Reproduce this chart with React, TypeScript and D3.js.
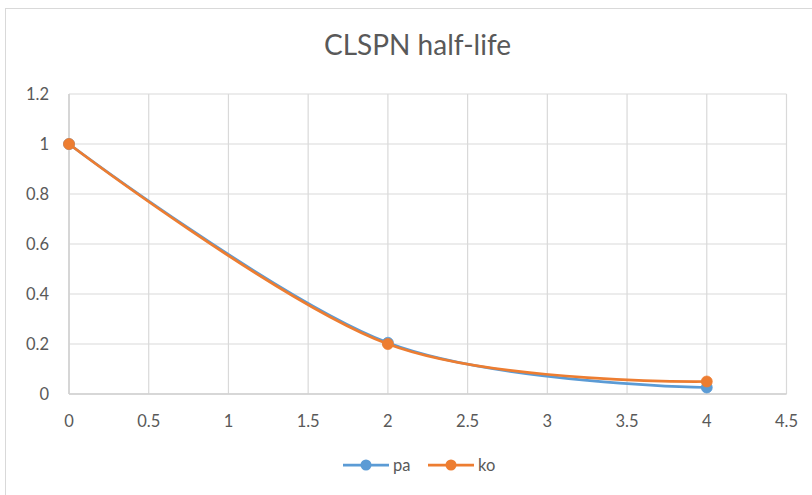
import React from "react";
import * as d3 from "d3";

const xValues = [0, 2, 4];
const paValues = [1, 0.205, 0.026];
const koValues = [1, 0.2, 0.05];
const xTicks = [0, 0.5, 1, 1.5, 2, 2.5, 3, 3.5, 4, 4.5];
const yTicks = [0, 0.2, 0.4, 0.6, 0.8, 1, 1.2];
const seriesNames = ["pa", "ko"];
const seriesColors = ["#5B9BD5", "#ED7D31"];

export default function App() {
  const W = 812, H = 495;
  const left = 69, right = 786.5, top = 94, bottom = 394;
  const x = d3.scaleLinear().domain([0, 4.5]).range([left, right]);
  const y = d3.scaleLinear().domain([0, 1.2]).range([bottom, top]);
  const line = d3
    .line<[number, number]>()
    .x((d) => x(d[0]))
    .y((d) => y(d[1]))
    .curve(d3.curveCardinal.tension(0));
  const series = [paValues, koValues];
  const font = "Lato, 'Open Sans', sans-serif";
  const textColor = "#595959";
  const grid = "#D9D9D9";
  const legendX = [343, 428];
  return (
    <svg
      width={W}
      height={H}
      style={{ position: "absolute", left: 0, top: 0, background: "#fff" }}
      fontFamily={font}
    >
      <rect x={5.5} y={8.5} width={W} height={H} fill="#fff" stroke={grid} strokeWidth={1} />
      <text x={417.5} y={55} textAnchor="middle" fontSize={28} fill={textColor}>
        CLSPN half-life
      </text>
      {xTicks.map((t) => (
        <line key={"gx" + t} x1={x(t)} x2={x(t)} y1={top} y2={bottom} stroke={grid} strokeWidth={1.2} />
      ))}
      {yTicks.map((t) => (
        <line key={"gy" + t} x1={left} x2={right} y1={y(t)} y2={y(t)} stroke={grid} strokeWidth={1.2} />
      ))}
      <line x1={left} x2={right} y1={bottom} y2={bottom} stroke="#D0D0D0" strokeWidth={1.5} />
      <line x1={left} x2={left} y1={top} y2={bottom} stroke="#D0D0D0" strokeWidth={1.5} />
      {yTicks.map((t) => (
        <text key={"yl" + t} x={49} y={y(t) + 6} textAnchor="end" fontSize={16.5} fill={textColor}>
          {String(t)}
        </text>
      ))}
      {xTicks.map((t) => (
        <text key={"xl" + t} x={x(t)} y={427} textAnchor="middle" fontSize={16.5} fill={textColor}>
          {String(t)}
        </text>
      ))}
      {series.map((vals, i) => {
        const pts: [number, number][] = xValues.map((xv, j) => [xv, vals[j]]);
        return (
          <g key={"s" + i}>
            <path d={line(pts) || ""} fill="none" stroke={seriesColors[i]} strokeWidth={2.75} strokeLinecap="round" />
            {pts.map((p, j) => (
              <circle key={j} cx={x(p[0])} cy={y(p[1])} r={5.5} fill={seriesColors[i]} stroke={seriesColors[i]} strokeWidth={0.75} />
            ))}
          </g>
        );
      })}
      {seriesNames.map((n, i) => (
        <g key={"lg" + i}>
          <line x1={legendX[i]} x2={legendX[i] + 46} y1={465} y2={465} stroke={seriesColors[i]} strokeWidth={2.75} />
          <circle cx={legendX[i] + 23} cy={465} r={5.5} fill={seriesColors[i]} />
          <text x={legendX[i] + 50} y={471} fontSize={16.5} fill={textColor}>
            {n}
          </text>
        </g>
      ))}
    </svg>
  );
}
